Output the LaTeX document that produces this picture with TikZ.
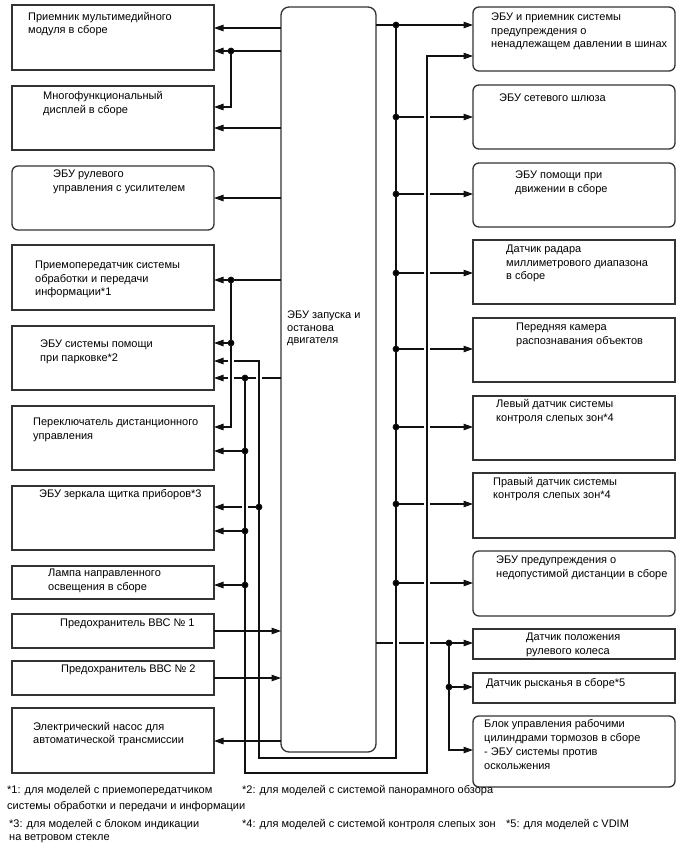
\documentclass[tikz,border=0pt]{standalone}
\usepackage{fontspec}
\setmainfont{Liberation Sans}
\usetikzlibrary{arrows.meta}
\definecolor{frame}{HTML}{333333}
\definecolor{wire}{HTML}{111111}

\begin{document}
\begin{tikzpicture}[
  x=1pt, y=-1pt,
  font=\fontsize{11}{13.3}\selectfont,
  >={Triangle[length=9.5pt,width=6.5pt]},
  unit/.style={draw=frame, fill=white, line width=1.3pt,
               minimum width=202pt, inner sep=0pt, outer sep=0pt,
               anchor=north west},
  soft/.style={unit, rounded corners=6pt},
  lbl/.style={anchor=north west, align=left, inner sep=0pt, text=black},
  wire/.style={draw=wire, line width=1.1pt},
  flow/.style={wire, ->},
]
\fill[white] (0,0) rectangle (688,852);
\useasboundingbox (0,0) rectangle (688,852);

% central unit
\node[soft, minimum width=95pt, minimum height=745pt, rounded corners=8pt]
  (ecu) at (281,7) {};
\node[lbl] (ecuT) at (287,311) {ЭБУ запуска и\\[-0.8pt]останова\\[-0.8pt]двигателя};

% left column
\node[unit, minimum height=65pt] (mmr)   at (12,5)   {};
\node[unit, minimum height=64pt] (mfd)   at (12,86)  {};
\node[soft, minimum height=64pt] (eps)   at (12,166) {};
\node[unit, minimum height=65pt] (dcm)   at (12,245) {};
\node[unit, minimum height=64pt] (pa)    at (12,326) {};
\node[unit, minimum height=64pt] (rsw)   at (12,406) {};
\node[unit, minimum height=64pt] (hud)   at (12,486) {};
\node[unit, minimum height=33pt] (afs)   at (12,566) {};
\node[unit, minimum height=34pt] (fuse1) at (12,614) {};
\node[unit, minimum height=34pt] (fuse2) at (12,661) {};
\node[unit, minimum height=65pt] (oilp)  at (12,708) {};

\node[lbl] (mmrT)   at (28,12)  {Приемник мультимедийного\\модуля в сборе};
\node[lbl] (mfdT)   at (43,91)  {Многофункциональный\\[0.8pt]дисплей в сборе};
\node[lbl] (epsT)   at (53,170) {ЭБУ рулевого\\[0.8pt]управления с усилителем};
\node[lbl] (dcmT)   at (35,261) {Приемопередатчик системы\\обработки и передачи\\информации*1};
\node[lbl] (paT)    at (40,340) {ЭБУ системы помощи\\при парковке*2};
\node[lbl] (rswT)   at (33,418) {Переключатель дистанционного\\управления};
\node[lbl] (hudT)   at (39,489) {ЭБУ зеркала щитка приборов*3};
\node[lbl] (afsT)   at (48,569) {Лампа направленного\\освещения в сборе};
\node[lbl] (fuse1T) at (60,619) {Предохранитель ВВС № 1};
\node[lbl] (fuse2T) at (61,665) {Предохранитель ВВС № 2};
\node[lbl] (oilpT)  at (33,722) {Электрический насос для\\автоматической трансмиссии};

% right column
\node[soft, minimum height=64pt] (tpms) at (473,7)   {};
\node[soft, minimum height=64pt] (gw)   at (473,85)  {};
\node[soft, minimum height=64pt] (dsc)  at (473,163) {};
\node[unit, minimum height=64pt] (mwr)  at (473,240) {};
\node[unit, minimum height=64pt] (fcam) at (473,318) {};
\node[unit, minimum height=64pt] (bsml) at (473,396) {};
\node[unit, minimum height=65pt] (bsmr) at (473,473) {};
\node[soft, minimum height=65pt] (acc)  at (473,551) {};
\node[unit, minimum height=30pt] (sas)  at (473,629) {};
\node[unit, minimum height=30pt] (yaw)  at (473,673) {};
\node[soft, minimum height=71pt] (abs)  at (473,716) {};

\node[lbl] (tpmsT) at (491,13)  {ЭБУ и приемник системы\\предупреждения о\\ненадлежащем давлении в шинах};
\node[lbl] (gwT)   at (499,94)  {ЭБУ сетевого шлюза};
\node[lbl] (dscT)  at (515,171) {ЭБУ помощи при\\движении в сборе};
\node[lbl] (mwrT)  at (506,245) {Датчик радара\\миллиметрового диапазона\\в сборе};
\node[lbl] (fcamT) at (516,323) {Передняя камера\\распознавания объектов};
\node[lbl] (bsmlT) at (496,399) {Левый датчик системы\\[0.8pt]контроля слепых зон*4};
\node[lbl] (bsmrT) at (493,477) {Правый датчик системы\\[-0.5pt]контроля слепых зон*4};
\node[lbl] (accT)  at (496,556) {ЭБУ предупреждения о\\недопустимой дистанции в сборе};
\node[lbl] (sasT)  at (526,633) {Датчик положения\\[0.8pt]рулевого колеса};
\node[lbl] (yawT)  at (486,678) {Датчик рысканья в сборе*5};
\node[lbl] (absT)  at (484,719) {Блок управления рабочими\\[1pt]цилиндрами тормозов в сборе\\[1pt]- ЭБУ системы против\\[0.5pt]оскольжения};

% left side wiring
\draw[flow] (ecu.west |- 0,28) -- (mmr.east |- 0,28);
\draw[flow] (ecu.west |- 0,51) -- (mmr.east |- 0,51);
\draw[flow] (231,51) -- (231,107) -- (mfd.east |- 0,107);
\draw[flow] (ecu.west |- 0,128) -- (mfd.east |- 0,128);
\draw[flow] (ecu.west |- 0,198) -- (eps.east |- 0,198);

\draw[flow] (ecu.west |- 0,280) -- (dcm.east |- 0,280);
\draw[flow] (231,280) -- (231,427) -- (rsw.east |- 0,427);
\draw[flow] (231,343) -- (pa.east |- 0,343);

% panoramic branch, broken where it passes the other buses
\draw[wire] (ecu.west |- 0,378) -- (262,378);
\draw[wire] (256,378) -- (234,378);
\draw[flow] (228,378) -- (pa.east |- 0,378);
\draw[flow] (245,378) -- (245,773) -- (427,773) -- (427,56) -- (tpms.west |- 0,56);
\draw[flow] (245,451) -- (rsw.east |- 0,451);
\draw[flow] (245,531) -- (hud.east |- 0,531);
\draw[flow] (245,585) -- (afs.east |- 0,585);

% right bus
\draw[flow] (ecu.east |- 0,25) -- (tpms.west |- 0,25);
\draw[wire] (396,25) -- (396,758) -- (259,758) -- (259,361) -- (234,361);
\draw[flow] (228,361) -- (pa.east |- 0,361);
\draw[wire] (259,507) -- (248,507);
\draw[flow] (242,507) -- (hud.east |- 0,507);

\draw[wire] (396,117) -- (424,117); \draw[flow] (430,117) -- (gw.west |- 0,117);
\draw[wire] (396,194) -- (424,194); \draw[flow] (430,194) -- (dsc.west |- 0,194);
\draw[wire] (396,273) -- (424,273); \draw[flow] (430,273) -- (mwr.west |- 0,273);
\draw[wire] (396,349) -- (424,349); \draw[flow] (430,349) -- (fcam.west |- 0,349);
\draw[wire] (396,427) -- (424,427); \draw[flow] (430,427) -- (bsml.west |- 0,427);
\draw[wire] (396,504) -- (424,504); \draw[flow] (430,504) -- (bsmr.west |- 0,504);
\draw[wire] (396,583) -- (424,583); \draw[flow] (430,583) -- (acc.west |- 0,583);

% fuses and pump
\draw[flow] (fuse1.east |- 0,631) -- (ecu.west |- 0,631);
\draw[flow] (fuse2.east |- 0,678) -- (ecu.west |- 0,678);
\draw[flow] (ecu.west |- 0,741) -- (oilp.east |- 0,741);

% chassis group
\draw[wire] (ecu.east |- 0,643) -- (393,643);
\draw[wire] (399,643) -- (424,643);
\draw[flow] (430,643) -- (sas.west |- 0,643);
\draw[flow] (449,643) -- (449,750) -- (abs.west |- 0,750);
\draw[flow] (449,687) -- (yaw.west |- 0,687);

% junctions
\foreach \p in {(231,51),(231,280),(231,343),(245,378),(245,451),(245,531),
                (245,585),(259,507),(396,25),(396,117),(396,194),(396,273),
                (396,349),(396,427),(396,504),(396,583),(449,643),(449,687)}
  \fill[wire] \p circle (2.8pt);

% notes
\node[lbl] (fn1) at (7,785)   {*1: для моделей с приемопередатчиком\\[3.1pt]системы обработки и передачи и информации};
\node[lbl] (fn2) at (242,785) {*2: для моделей с системой панорамного обзора};
\node[lbl] (fn3) at (9,819)   {*3: для моделей с блоком индикации\\на ветровом стекле};
\node[lbl] (fn4) at (242,819) {*4: для моделей с системой контроля слепых зон};
\node[lbl] (fn5) at (506,819) {*5: для моделей с VDIM};
\end{tikzpicture}
\end{document}
